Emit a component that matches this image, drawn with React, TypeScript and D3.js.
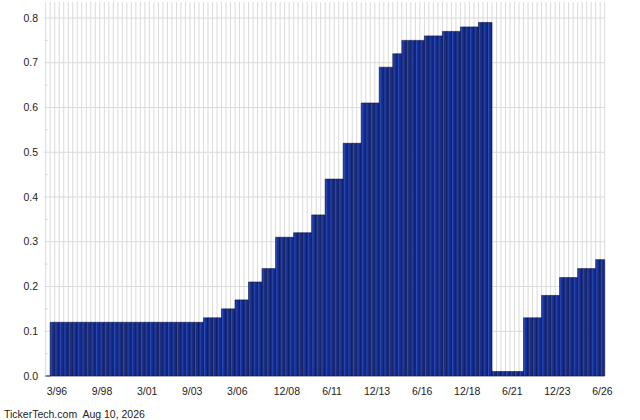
import React from "react";
import * as d3 from "d3";

// Quarterly categories: 9/95 .. 6/26 (month/yy)
const quarters: string[] = [];
for (let y = 1995; y <= 2026; y++) {
  for (const m of [3, 6, 9, 12]) {
    if (y === 1995 && m < 9) continue;
    if (y === 2026 && m > 6) continue;
    quarters.push(`${m}/${String(y % 100).padStart(2, "0")}`);
  }
}

// Dividend per quarter (124 values, 9/95 .. 6/26)
const dividends: number[] = [
  0,
  0.12, 0.12, 0.12, 0.12, 0.12, 0.12, 0.12, 0.12, 0.12, 0.12,
  0.12, 0.12, 0.12, 0.12, 0.12, 0.12, 0.12, 0.12, 0.12, 0.12,
  0.12, 0.12, 0.12, 0.12, 0.12, 0.12, 0.12, 0.12, 0.12, 0.12,
  0.12, 0.12, 0.12, 0.12,
  0.13, 0.13, 0.13, 0.13,
  0.15, 0.15, 0.15,
  0.17, 0.17, 0.17,
  0.21, 0.21, 0.21,
  0.24, 0.24, 0.24,
  0.31, 0.31, 0.31, 0.31,
  0.32, 0.32, 0.32, 0.32,
  0.36, 0.36, 0.36,
  0.44, 0.44, 0.44, 0.44,
  0.52, 0.52, 0.52, 0.52,
  0.61, 0.61, 0.61, 0.61,
  0.69, 0.69, 0.69,
  0.72, 0.72,
  0.75, 0.75, 0.75, 0.75, 0.75,
  0.76, 0.76, 0.76, 0.76,
  0.77, 0.77, 0.77, 0.77,
  0.78, 0.78, 0.78, 0.78,
  0.79, 0.79, 0.79,
  0.01, 0.01, 0.01, 0.01, 0.01, 0.01, 0.01,
  0.13, 0.13, 0.13, 0.13,
  0.18, 0.18, 0.18, 0.18,
  0.22, 0.22, 0.22, 0.22,
  0.24, 0.24, 0.24, 0.24,
  0.26, 0.26,
];

const xTickLabels: string[] = [
  "3/96", "9/98", "3/01", "9/03", "3/06", "12/08", "6/11",
  "12/13", "6/16", "12/18", "6/21", "12/23", "6/26",
];
const yTicks: number[] = [0, 0.1, 0.2, 0.3, 0.4, 0.5, 0.6, 0.7, 0.8];
const yMinorTicks: number[] = [0.05, 0.15, 0.25, 0.35, 0.45, 0.55, 0.65, 0.75];
const footer = "TickerTech.com  Aug 10, 2026";

const W = 640;
const H = 420;
const plotLeft = 45.7;
const plotRight = 604.7;
const plotTop = 2;
const font = "'Liberation Sans', Arial, sans-serif";

export default function App() {
  const x = d3
    .scaleBand<string>()
    .domain(quarters)
    .range([plotLeft, plotRight])
    .paddingInner(0)
    .paddingOuter(0);
  const y = d3.scaleLinear().domain([0, 0.8]).range([376, 18]);
  const bw = x.bandwidth();
  const y0 = y(0);

  const barPath = (q: string, v: number) => {
    const p = d3.path();
    const x0 = x(q)!;
    p.moveTo(x0, y0);
    p.lineTo(x0, y(v));
    p.lineTo(x0 + bw, y(v));
    p.lineTo(x0 + bw, y0);
    p.closePath();
    return p.toString();
  };

  return (
    <div style={{ position: "fixed", left: 0, top: 0, width: W, height: H, background: "#fff" }}>
      <svg width={W} height={H} style={{ display: "block" }}>
        <defs>
          <linearGradient id="barGrad" x1="0" x2="1" y1="0" y2="0">
            <stop offset="0%" stopColor="#0f1f66" />
            <stop offset="22%" stopColor="#2a4bc2" />
            <stop offset="45%" stopColor="#1a3192" />
            <stop offset="100%" stopColor="#132772" />
          </linearGradient>
        </defs>
        <rect x={0} y={0} width={W} height={H} fill="#fff" />
        {/* vertical grid */}
        {quarters.map((q) => (
          <line
            key={"vg" + q}
            x1={x(q)!}
            x2={x(q)!}
            y1={plotTop}
            y2={y0}
            stroke="#dadada"
            strokeWidth={1}
          />
        ))}
        <line x1={plotRight} x2={plotRight} y1={plotTop} y2={y0} stroke="#dadada" strokeWidth={1} />
        {/* horizontal grid */}
        {yTicks.map((t) => (
          <line key={"hg" + t} x1={44.3} x2={plotRight} y1={y(t)} y2={y(t)} stroke="#dadada" strokeWidth={1} />
        ))}
        {yMinorTicks.map((t) => (
          <line key={"mt" + t} x1={44.8} x2={47.5} y1={y(t)} y2={y(t)} stroke="#cfcfcf" strokeWidth={1} />
        ))}
        {/* bars */}
        {quarters.map((q, i) => (
          <path
            key={"b" + q}
            d={barPath(q, dividends[i])}
            fill="url(#barGrad)"
            stroke="#0b174f"
            strokeWidth={0.6}
          />
        ))}
        {/* y labels */}
        {yTicks.map((t) => (
          <text
            key={"yl" + t}
            x={38}
            y={y(t)}
            dy="0.35em"
            textAnchor="end"
            fontFamily={font}
            fontSize={10.5}
            fill="#222"
          >
            {t.toFixed(1)}
          </text>
        ))}
        {/* x labels */}
        {xTickLabels.map((l) => (
          <text
            key={"xl" + l}
            x={x(l)! + bw / 2}
            y={394.5}
            textAnchor="middle"
            fontFamily={font}
            fontSize={10.5}
            fill="#222"
          >
            {l}
          </text>
        ))}
        <text
          x={4}
          y={418}
          fontFamily={font}
          fontSize={10.5}
          fill="#222"
          style={{ whiteSpace: "pre" }}
        >
          {footer}
        </text>
      </svg>
    </div>
  );
}
